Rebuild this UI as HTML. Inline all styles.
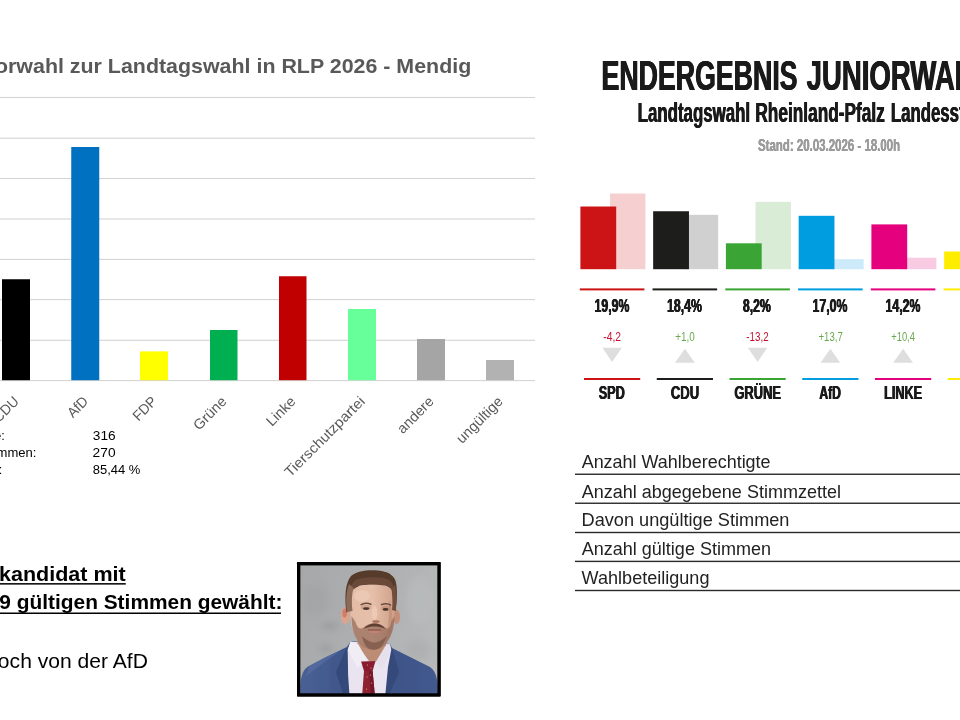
<!DOCTYPE html>
<html><head><meta charset="utf-8"><title>Juniorwahl</title>
<style>
html,body{margin:0;padding:0;background:#fff;}
body{width:960px;height:720px;overflow:hidden;position:relative;font-family:"Liberation Sans",sans-serif;}
svg{position:absolute;left:0;top:0;display:block;will-change:transform;}
svg text{font-family:"Liberation Sans",sans-serif;white-space:pre;}
</style></head><body>
<svg width="960" height="720" viewBox="0 0 960 720">
<rect x="0.00" y="96.95" width="535.00" height="1.10" fill="#d4d4d4"/>
<rect x="0.00" y="137.65" width="535.00" height="1.10" fill="#d4d4d4"/>
<rect x="0.00" y="177.95" width="535.00" height="1.10" fill="#d4d4d4"/>
<rect x="0.00" y="218.45" width="535.00" height="1.10" fill="#d4d4d4"/>
<rect x="0.00" y="258.85" width="535.00" height="1.10" fill="#d4d4d4"/>
<rect x="0.00" y="299.05" width="535.00" height="1.10" fill="#d4d4d4"/>
<rect x="0.00" y="339.75" width="535.00" height="1.10" fill="#d4d4d4"/>
<rect x="0.00" y="380.05" width="535.00" height="1.10" fill="#d4d4d4"/>
<rect x="2.00" y="279.25" width="28.00" height="100.95" fill="#000000"/>
<rect x="71.25" y="147.00" width="28.00" height="233.20" fill="#0070c0"/>
<rect x="140.00" y="351.40" width="28.00" height="28.80" fill="#ffff00"/>
<rect x="210.00" y="330.00" width="27.50" height="50.20" fill="#00b050"/>
<rect x="279.00" y="276.25" width="27.50" height="103.95" fill="#c00000"/>
<rect x="348.00" y="309.00" width="28.00" height="71.20" fill="#66ff99"/>
<rect x="417.00" y="339.00" width="28.00" height="41.20" fill="#a5a5a5"/>
<rect x="486.00" y="360.00" width="28.00" height="20.20" fill="#b2b2b2"/>
<text transform="translate(-49.02,73.30) scale(1.0369,1)" font-size="20.64" font-weight="bold" fill="#595959">Juniorwahl zur Landtagswahl in RLP 2026 - Mendig</text>
<text transform="translate(19.80,402.30) rotate(-45) scale(0.960,1)" text-anchor="end" font-size="14.30" fill="#595959">CDU</text>
<text transform="translate(89.05,402.30) rotate(-45) scale(0.960,1)" text-anchor="end" font-size="14.30" fill="#595959">AfD</text>
<text transform="translate(157.80,402.30) rotate(-45) scale(0.960,1)" text-anchor="end" font-size="14.30" fill="#595959">FDP</text>
<text transform="translate(227.55,402.30) rotate(-45) scale(1.020,1)" text-anchor="end" font-size="14.30" fill="#595959">Grüne</text>
<text transform="translate(296.55,402.30) rotate(-45) scale(1.020,1)" text-anchor="end" font-size="14.30" fill="#595959">Linke</text>
<text transform="translate(365.80,402.30) rotate(-45) scale(1.055,1)" text-anchor="end" font-size="14.30" fill="#595959">Tierschutzpartei</text>
<text transform="translate(434.80,402.30) rotate(-45) scale(1.020,1)" text-anchor="end" font-size="14.30" fill="#595959">andere</text>
<text transform="translate(503.80,402.30) rotate(-45) scale(1.020,1)" text-anchor="end" font-size="14.30" fill="#595959">ungültige</text>
<text transform="translate(92.78,439.70) scale(1.0285,1)" font-size="13.30" font-weight="normal" fill="#000">316</text>
<text transform="translate(92.61,456.70) scale(1.0332,1)" font-size="13.30" font-weight="normal" fill="#000">270</text>
<text transform="translate(92.73,474.00) scale(0.9780,1)" font-size="13.30" font-weight="normal" fill="#000">85,44 %</text>
<text transform="translate(-89.49,439.70) scale(0.9500,1)" font-size="13.30" font-weight="normal" fill="#000">Wahlberechtigte:</text>
<text transform="translate(-94.95,456.70) scale(0.9829,1)" font-size="13.30" font-weight="normal" fill="#000">abgegebene Stimmen:</text>
<text transform="translate(-90.69,474.00) scale(0.9500,1)" font-size="13.30" font-weight="normal" fill="#000">Wahlbeteiligung:</text>
<text transform="translate(-62.06,581.25) scale(1.1060,1)" font-size="19.48" font-weight="bold" fill="#000">Direktkandidat mit</text>
<rect x="0.00" y="583.10" width="125.80" height="1.50" fill="#000"/>
<text transform="translate(-23.97,609.40) scale(1.0731,1)" font-size="19.48" font-weight="bold" fill="#000">129 gültigen Stimmen gewählt:</text>
<rect x="0.00" y="612.50" width="281.00" height="1.50" fill="#000"/>
<text transform="translate(-16.21,668.00) scale(1.0834,1)" font-size="19.48" font-weight="normal" fill="#000">Koch von der AfD</text>
<text id="t11" transform="translate(601.51,90.30) scale(0.6344,1)" font-size="42.15" font-weight="bold" fill="#1a1a1a">ENDERGEBNIS</text>
<use href="#t11" x="0.40"/><use href="#t11" x="-0.40"/>
<text id="t12" transform="translate(806.58,90.30) scale(0.6544,1)" font-size="42.15" font-weight="bold" fill="#1a1a1a">JUNIORWAHL</text>
<use href="#t12" x="0.40"/><use href="#t12" x="-0.40"/>
<text id="t13" transform="translate(637.67,122.30) scale(0.6310,1)" font-size="26.74" font-weight="bold" fill="#1a1a1a">Landtagswahl</text>
<use href="#t13" x="0.30"/><use href="#t13" x="-0.30"/>
<text id="t14" transform="translate(755.35,122.30) scale(0.6455,1)" font-size="26.74" font-weight="bold" fill="#1a1a1a">Rheinland-Pfalz</text>
<use href="#t14" x="0.30"/><use href="#t14" x="-0.30"/>
<text id="t15" transform="translate(890.88,122.30) scale(0.6277,1)" font-size="26.74" font-weight="bold" fill="#1a1a1a">Landesstimme</text>
<use href="#t15" x="0.30"/><use href="#t15" x="-0.30"/>
<text id="t16" transform="translate(758.02,150.60) scale(0.7172,1)" font-size="15.99" font-weight="bold" fill="#9b9b9b">Stand: 20.03.2026 - 18.00h</text>
<use href="#t16" x="0.15"/><use href="#t16" x="-0.15"/>
<rect x="610.00" y="193.50" width="35.40" height="75.70" fill="#f6cfd0"/>
<rect x="580.40" y="206.50" width="35.80" height="62.70" fill="#cc1417"/>
<rect x="579.80" y="288.40" width="64.60" height="2.00" fill="#cc1417"/>
<rect x="584.00" y="378.00" width="56.20" height="2.00" fill="#cc1417"/>
<text id="t17" transform="translate(594.52,311.70) scale(0.6941,1)" font-size="17.73" font-weight="bold" fill="#1a1a1a">19,9%</text>
<use href="#t17" x="0.30"/><use href="#t17" x="-0.30"/>
<text transform="translate(603.29,341.00) scale(0.7910,1)" font-size="13.08" font-weight="normal" fill="#c8102e">-4,2</text>
<polygon points="602.4,347.7 621.8,347.7 612.1,362" fill="#dedede"/>
<text id="t19" transform="translate(598.74,399.20) scale(0.6862,1)" font-size="18.46" font-weight="bold" fill="#1a1a1a">SPD</text>
<use href="#t19" x="0.35"/><use href="#t19" x="-0.35"/>
<rect x="682.75" y="214.80" width="35.40" height="54.40" fill="#d0d0d0"/>
<rect x="653.15" y="211.25" width="35.80" height="57.95" fill="#1d1d1b"/>
<rect x="652.55" y="288.40" width="64.60" height="2.00" fill="#1d1d1b"/>
<rect x="656.75" y="378.00" width="56.20" height="2.00" fill="#1d1d1b"/>
<text id="t20" transform="translate(667.02,311.70) scale(0.6941,1)" font-size="17.73" font-weight="bold" fill="#1a1a1a">18,4%</text>
<use href="#t20" x="0.30"/><use href="#t20" x="-0.30"/>
<text transform="translate(675.32,341.00) scale(0.7538,1)" font-size="13.08" font-weight="normal" fill="#6aa84f">+1,0</text>
<polygon points="675.0,362.7 694.8,362.7 684.9,348.7" fill="#dedede"/>
<text id="t22" transform="translate(670.81,399.20) scale(0.7098,1)" font-size="18.46" font-weight="bold" fill="#1a1a1a">CDU</text>
<use href="#t22" x="0.35"/><use href="#t22" x="-0.35"/>
<rect x="755.50" y="201.90" width="35.40" height="67.30" fill="#d8ecd6"/>
<rect x="725.90" y="243.30" width="35.80" height="25.90" fill="#3aa535"/>
<rect x="725.30" y="288.40" width="64.60" height="2.00" fill="#3aa535"/>
<rect x="729.50" y="378.00" width="56.20" height="2.00" fill="#3aa535"/>
<text id="t23" transform="translate(742.91,311.70) scale(0.6906,1)" font-size="17.73" font-weight="bold" fill="#1a1a1a">8,2%</text>
<use href="#t23" x="0.30"/><use href="#t23" x="-0.30"/>
<text transform="translate(746.26,341.00) scale(0.7488,1)" font-size="13.08" font-weight="normal" fill="#c8102e">-13,2</text>
<polygon points="747.9,347.7 767.3,347.7 757.6,362" fill="#dedede"/>
<text id="t25" transform="translate(734.42,399.20) scale(0.6980,1)" font-size="18.46" font-weight="bold" fill="#1a1a1a">GRÜNE</text>
<use href="#t25" x="0.35"/><use href="#t25" x="-0.35"/>
<rect x="828.25" y="259.20" width="35.40" height="10.00" fill="#cdeafa"/>
<rect x="798.65" y="215.80" width="35.80" height="53.40" fill="#009ee0"/>
<rect x="798.05" y="288.40" width="64.60" height="2.00" fill="#009ee0"/>
<rect x="802.25" y="378.00" width="56.20" height="2.00" fill="#009ee0"/>
<text id="t26" transform="translate(812.52,311.70) scale(0.6962,1)" font-size="17.73" font-weight="bold" fill="#1a1a1a">17,0%</text>
<use href="#t26" x="0.30"/><use href="#t26" x="-0.30"/>
<text transform="translate(818.53,341.00) scale(0.7326,1)" font-size="13.08" font-weight="normal" fill="#6aa84f">+13,7</text>
<polygon points="820.5,362.7 840.2,362.7 830.4,348.7" fill="#dedede"/>
<text id="t28" transform="translate(819.45,399.20) scale(0.6556,1)" font-size="18.46" font-weight="bold" fill="#1a1a1a">AfD</text>
<use href="#t28" x="0.35"/><use href="#t28" x="-0.35"/>
<rect x="901.00" y="257.70" width="35.40" height="11.50" fill="#f9cbe3"/>
<rect x="871.40" y="224.40" width="35.80" height="44.80" fill="#e5007d"/>
<rect x="870.80" y="288.40" width="64.60" height="2.00" fill="#e5007d"/>
<rect x="875.00" y="378.00" width="56.20" height="2.00" fill="#e5007d"/>
<text id="t29" transform="translate(885.52,311.70) scale(0.6941,1)" font-size="17.73" font-weight="bold" fill="#1a1a1a">14,2%</text>
<use href="#t29" x="0.30"/><use href="#t29" x="-0.30"/>
<text transform="translate(891.24,341.00) scale(0.7139,1)" font-size="13.08" font-weight="normal" fill="#6aa84f">+10,4</text>
<polygon points="893.2,362.7 913.0,362.7 903.1,348.7" fill="#dedede"/>
<text id="t31" transform="translate(884.10,399.20) scale(0.6870,1)" font-size="18.46" font-weight="bold" fill="#1a1a1a">LINKE</text>
<use href="#t31" x="0.35"/><use href="#t31" x="-0.35"/>
<rect x="973.75" y="262.00" width="35.40" height="7.20" fill="#fffbd0"/>
<rect x="944.15" y="251.50" width="35.80" height="17.70" fill="#ffed00"/>
<rect x="943.55" y="288.40" width="64.60" height="2.00" fill="#ffed00"/>
<rect x="947.75" y="378.00" width="56.20" height="2.00" fill="#ffed00"/>
<text transform="translate(581.66,468.25) scale(1.0303,1)" font-size="17.44" font-weight="normal" fill="#222">Anzahl Wahlberechtigte</text>
<text transform="translate(581.66,497.50) scale(1.0335,1)" font-size="17.44" font-weight="normal" fill="#222">Anzahl abgegebene Stimmzettel</text>
<text transform="translate(581.51,526.25) scale(1.0423,1)" font-size="17.44" font-weight="normal" fill="#222">Davon ungültige Stimmen</text>
<text transform="translate(581.66,555.00) scale(1.0342,1)" font-size="17.44" font-weight="normal" fill="#222">Anzahl gültige Stimmen</text>
<text transform="translate(581.62,583.75) scale(1.0355,1)" font-size="17.44" font-weight="normal" fill="#222">Wahlbeteiligung</text>
<rect x="575.00" y="473.55" width="385.00" height="1.40" fill="#2a2a2a"/>
<rect x="575.00" y="502.55" width="385.00" height="1.40" fill="#2a2a2a"/>
<rect x="575.00" y="531.80" width="385.00" height="1.40" fill="#2a2a2a"/>
<rect x="575.00" y="560.70" width="385.00" height="1.40" fill="#2a2a2a"/>
<rect x="575.00" y="589.80" width="385.00" height="1.40" fill="#2a2a2a"/>
<defs>
<clipPath id="pc"><rect x="300.2" y="565.2" width="137.6" height="128.3"/></clipPath>
<filter id="pb" x="-5%" y="-5%" width="110%" height="110%"><feGaussianBlur stdDeviation="0.75"/></filter>
<filter id="pb2" x="-20%" y="-20%" width="140%" height="140%"><feGaussianBlur stdDeviation="3"/></filter>
<linearGradient id="bgg" x1="0" y1="0" x2="1" y2="0.3"><stop offset="0" stop-color="#a5a7a8"/><stop offset="0.55" stop-color="#adafb0"/><stop offset="1" stop-color="#b6b8b9"/></linearGradient>
<linearGradient id="skin" x1="0" y1="0" x2="1" y2="0"><stop offset="0" stop-color="#e4bca6"/><stop offset="0.5" stop-color="#e6c0aa"/><stop offset="1" stop-color="#cfa089"/></linearGradient>
<linearGradient id="jk" x1="0" y1="0" x2="1" y2="0"><stop offset="0" stop-color="#4a6196"/><stop offset="0.5" stop-color="#3b5183"/><stop offset="1" stop-color="#425a8f"/></linearGradient>
</defs>
<rect x="297" y="562" width="143.6" height="134.5" rx="1.2" fill="#000"/>
<g clip-path="url(#pc)">
<rect x="298" y="563" width="142" height="133" fill="url(#bgg)"/>
<g filter="url(#pb2)" opacity="0.55">
<ellipse cx="330" cy="626" rx="9" ry="3" fill="#8d8f90"/>
<ellipse cx="326" cy="649" rx="7" ry="3" fill="#8f9192"/>
<ellipse cx="316" cy="600" rx="12" ry="14" fill="#a0a2a3"/>
<ellipse cx="420" cy="600" rx="14" ry="25" fill="#bbbdbe"/>
<ellipse cx="418" cy="650" rx="12" ry="10" fill="#a9abac"/>
</g>
<g filter="url(#pb)">
<!-- jacket -->
<path d="M298,697 L300.5,682 C302,672 305,668 309,666 L325,657.5 L346.8,647 L351,641 L390,644 L392,648 L411,657.5 L430,667 C434,670 436.5,675 437,680 L440,697 Z" fill="url(#jk)"/>
<path d="M346.8,647 L336,672 L344,697 L352,697 L349,660 Z" fill="#34497a"/>
<path d="M392,648 L399,672 L388,697 L383,697 L389,660 Z" fill="#34497a"/>
<path d="M309,666 L325,657.5 L340,651 L322,664 L306,676 Z" fill="#5a72a6" opacity="0.6"/>
<!-- shirt -->
<path d="M350.6,641.4 L347.7,650 L348.1,675 L349.6,697 L385.1,697 L388,667 L391.2,650 L389.9,644.3 Z" fill="#e9e4ef"/>
<!-- neck -->
<path d="M357,628 L357.5,645 L369,661 L377,661.5 L386,646 L388,628 Z" fill="#bd8c75"/>
<!-- collar wings -->
<path d="M350.6,641.4 L358.3,644.3 L367.8,661.5 L357.3,667.3 L347.7,650 Z" fill="#f1edf5"/>
<path d="M389.9,644.3 L385.1,646.2 L375.5,662.5 L382.2,669.2 L391.2,650 Z" fill="#e6e0ec"/>
<!-- tie -->
<path d="M361.1,661.5 L375.5,661 L372.6,671.1 L364,671.1 Z" fill="#8a1f30"/>
<path d="M364,671.1 L372.6,671.1 L375,697 L362,697 Z" fill="#8f2233"/>
<path d="M369,671.1 L372.6,671.1 L375,697 L371,697 Z" fill="#74182a"/>
<g fill="#d9b36a"><circle cx="367.5" cy="665" r="0.6"/><circle cx="371" cy="668" r="0.6"/><circle cx="367" cy="677" r="0.6"/><circle cx="371.5" cy="683" r="0.6"/><circle cx="366.5" cy="689" r="0.6"/><circle cx="370.5" cy="675" r="0.6"/></g>
<!-- ears -->
<ellipse cx="345.3" cy="615.5" rx="4.6" ry="8.6" fill="#dba48d"/>
<ellipse cx="344.6" cy="613" rx="2.2" ry="4.5" fill="#cf7d6c"/>
<ellipse cx="396.6" cy="616.8" rx="3.4" ry="7.2" fill="#c58e78"/>
<!-- hair back -->
<path d="M346.5,613 C344.5,598 345,583 351,576 C357,571 366,569.8 375,570.2 C384,570.6 392,573 395,579.5 C398,587 397,600 395.5,611 L392,606 L391,590 L386,585 L360,585 L354,590 L352.5,606 Z" fill="#573a2c"/>
<!-- face -->
<path d="M351.3,592 C349.3,606 349.6,622 354,633 C358,643.5 366,649.2 373,649.2 C380.5,649.2 388,643 391.3,633 C395,622 395.3,606 394,592 C391,581.5 355.5,581.5 351.3,592 Z" fill="url(#skin)"/>
<path d="M389,600 C392,606 393.5,620 391.3,633 C389.5,638 387,641 385,643 C388,630 389.5,615 389,600 Z" fill="#b98670" opacity="0.55"/>
<!-- hair front / fade -->
<path d="M349.5,596 C349,588 352,581 358,579 C366,576.5 381,576.5 388,579.5 C393,582 395.5,589 395,597 C393,590 390,586.5 385,585.5 C376,584 365,584 359,585.5 C354,587 351.5,590 349.5,596 Z" fill="#6a4938"/>
<path d="M347,612 C345.5,602 346,592 349,584 L353.5,588 C351.5,595 351.5,604 352.5,611 Z" fill="#8c6a58"/>
<path d="M395.8,611 C397,601 397,592 395,585 L391.5,589 C392.5,596 392.8,604 392,610 Z" fill="#6f4e3e"/>
<!-- beard -->
<path d="M351.5,616 C351.5,626 353.5,634 357,639.5 C361,646.5 367.5,649.7 373,649.7 C379.5,649.7 385.5,646 389,639 C392.5,633 394.3,626 394.5,616 L391.5,621 C390.5,627 388.5,630.5 385,627.5 C381,624.5 378,623.2 374.5,623.2 C371,623.2 367,624.5 363.5,627.5 C360.5,630 357,628 355.5,622 Z" fill="#94695a" opacity="0.72"/>
<path d="M362,636 C366,640 371,642.5 374,642.5 C378,642.5 383,640 386.5,636 C384,646 379,649.7 373.5,649.7 C368,649.7 364,646 362,636 Z" fill="#6f4c3d" opacity="0.6"/>
<!-- mustache & mouth -->
<path d="M363.5,628.8 C367,625 371,623.6 374.5,623.6 C378.5,623.6 382.5,625 385.5,628.8 C381.5,627.2 378,626.6 374.5,626.6 C371,626.6 367.5,627.2 363.5,628.8 Z" fill="#5e3f31"/>
<ellipse cx="374.5" cy="631.6" rx="6.2" ry="1.7" fill="#c08375"/>
<path d="M368,630 L381,630" stroke="#7a4a40" stroke-width="0.9"/>
<!-- nose -->
<ellipse cx="374.8" cy="613" rx="2.6" ry="7" fill="#f0cdb9" opacity="0.85"/>
<ellipse cx="376" cy="621.6" rx="3.8" ry="1.3" fill="#a9735f"/>
<!-- eyes and brows -->
<ellipse cx="366" cy="607.5" rx="5.2" ry="2.6" fill="#c4917b" opacity="0.6"/>
<ellipse cx="386" cy="608.3" rx="4.8" ry="2.6" fill="#b98670" opacity="0.6"/>
<ellipse cx="366.2" cy="608.6" rx="3.1" ry="1.3" fill="#4a342c"/>
<ellipse cx="385.6" cy="609.4" rx="2.9" ry="1.3" fill="#4a342c"/>
<path d="M360.5,605 C363.5,603 368,603 371.5,604.5" stroke="#6b4c3c" stroke-width="1.5" fill="none"/>
<path d="M381,604.8 C384.5,603.3 388.5,603.5 391,605.3" stroke="#6b4c3c" stroke-width="1.5" fill="none"/>
<ellipse cx="362" cy="596" rx="8" ry="6" fill="#efd0bd" opacity="0.55"/>
</g>
</g>
<rect x="298.6" y="563.6" width="140.4" height="131.3" fill="none" stroke="#000" stroke-width="3.2"/>

</svg>
</body></html>
